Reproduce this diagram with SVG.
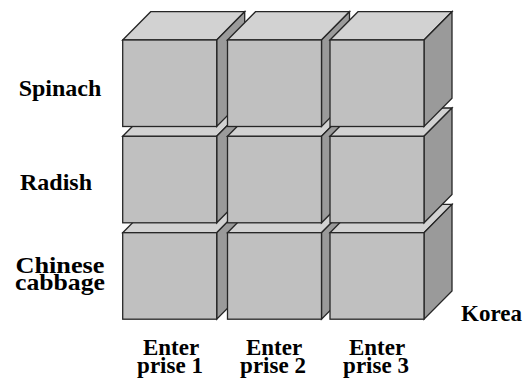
<svg xmlns="http://www.w3.org/2000/svg" xmlns:xlink="http://www.w3.org/1999/xlink" width="524" height="379" viewBox="0 0 524 379">
  <style>
    .front { fill: #c0c0c0; }
    .top { fill: #d2d2d2; }
    .side { fill: #9a9a9a; }
    .edge { stroke: #262626; stroke-width: 1.3; stroke-linejoin: miter; }
    .label { font-family: "Liberation Serif", serif; font-weight: bold; font-size: 23px; fill: #000; }
    .big { font-size: 24px; }
  </style>
  <defs>
    <!-- unit cube: front face 94 x 86.5, receding 28 right / 28 up -->
    <g id="cube" class="edge">
      <polygon class="top" points="0,0 28,-28.3 122,-28.3 94,0"/>
      <polygon class="side" points="94,0 122,-28.3 122,58.2 94,86.5"/>
      <rect class="front" x="0" y="0" width="94" height="86.5"/>
    </g>
  </defs>

  <!-- bottom row first so the rows above overlap it -->
  <g id="cabbage-e1"><use xlink:href="#cube" transform="translate(122.7,232.7)"/></g>
  <g id="cabbage-e2"><use xlink:href="#cube" transform="translate(227.5,232.7)"/></g>
  <g id="cabbage-e3"><use xlink:href="#cube" transform="translate(330,232.7)"/></g>

  <g id="radish-e1"><use xlink:href="#cube" transform="translate(122.7,136.3)"/></g>
  <g id="radish-e2"><use xlink:href="#cube" transform="translate(227.5,136.3)"/></g>
  <g id="radish-e3"><use xlink:href="#cube" transform="translate(330,136.3)"/></g>

  <g id="spinach-e1"><use xlink:href="#cube" transform="translate(122.7,40)"/></g>
  <g id="spinach-e2"><use xlink:href="#cube" transform="translate(227.5,40)"/></g>
  <g id="spinach-e3"><use xlink:href="#cube" transform="translate(330,40)"/></g>

  <g id="connectors"/>

  <!-- row labels -->
  <g id="label-spinach"><text class="label big" x="60" y="96" text-anchor="middle">Spinach</text></g>
  <g id="label-radish"><text class="label big" x="56" y="190" text-anchor="middle">Radish</text></g>
  <g id="label-cabbage">
    <text class="label" x="60" y="273" text-anchor="middle" textLength="89" lengthAdjust="spacingAndGlyphs">Chinese</text>
    <text class="label" x="60" y="290" text-anchor="middle" textLength="90" lengthAdjust="spacingAndGlyphs">cabbage</text>
  </g>

  <!-- depth label -->
  <g id="label-korea"><text class="label" x="461" y="321">Korea</text></g>

  <!-- column labels -->
  <g id="label-e1">
    <text class="label" x="171" y="355" text-anchor="middle">Enter</text>
    <text class="label" x="170" y="373" text-anchor="middle">prise 1</text>
  </g>
  <g id="label-e2">
    <text class="label" x="274" y="355" text-anchor="middle">Enter</text>
    <text class="label" x="273" y="373" text-anchor="middle">prise 2</text>
  </g>
  <g id="label-e3">
    <text class="label" x="377" y="355" text-anchor="middle">Enter</text>
    <text class="label" x="376" y="373" text-anchor="middle">prise 3</text>
  </g>
</svg>
